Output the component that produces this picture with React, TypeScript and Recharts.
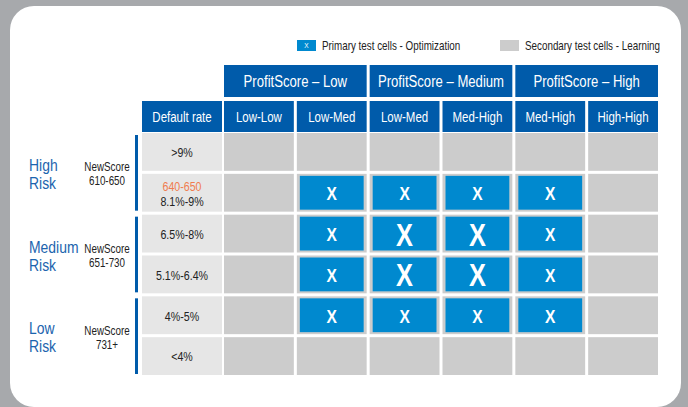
import React from "react";
import { ScatterChart, Scatter, XAxis, YAxis, Legend } from "recharts";

const profitGroups = ["ProfitScore – Low", "ProfitScore – Medium", "ProfitScore – High"];
const scoreBins = ["Low-Low", "Low-Med", "Low-Med", "Med-High", "Med-High", "High-High"];
const defaultRates = [">9%", "8.1%-9%", "6.5%-8%", "5.1%-6.4%", "4%-5%", "<4%"];
const rateNotes = ["", "640-650", "", "", "", ""];
const riskNames = [["High", "Risk"], ["Medium", "Risk"], ["Low", "Risk"]];
const riskScores = [["NewScore", "610-650"], ["NewScore", "651-730"], ["NewScore", "731+"]];
// 0 = secondary test cell, 1 = primary test cell, 2 = primary (emphasised)
const testGrid = [
  [0, 0, 0, 0, 0, 0],
  [0, 1, 1, 1, 1, 0],
  [0, 1, 2, 2, 1, 0],
  [0, 1, 2, 2, 1, 0],
  [0, 1, 1, 1, 1, 0],
  [0, 0, 0, 0, 0, 0],
];

const cells = testGrid.flatMap((row, r) => row.map((level, c) => ({ row: r, col: c, level })));
const primaryCells = cells.filter((d) => d.level > 0);

const W = 688;
const H = 407;
const PLOT_L = 224;
const PLOT_R = 661;
const PLOT_T = 133;
const PLOT_B = 378;
const COL_W = (PLOT_R - PLOT_L) / scoreBins.length;
const ROW_H = (PLOT_B - PLOT_T) / defaultRates.length;
const GAP = 3;
const RATE_W = 80;

// no narrow face installed, so squeeze Liberation Sans to look like a condensed grotesk
const FONT = "'Liberation Sans', Arial, sans-serif";
const SQUEEZE = 0.82;
const HEAD_BLUE = "#005baa";
const CELL_BLUE = "#0089cf";
const CELL_GRAY = "#cccccc";
const RATE_GRAY = "#e6e6e6";
const LABEL_BLUE = "#1c64ae";

const Narrow = ({ x, y, size, fill = "#222", anchor = "middle", weight = "normal", children }: any) => (
  <text
    transform={`translate(${x},${y}) scale(${SQUEEZE},1)`}
    textAnchor={anchor}
    dominantBaseline="central"
    fill={fill}
    fontFamily={FONT}
    fontSize={size}
    fontWeight={weight}
  >
    {children}
  </text>
);

const GrayCell = (props: any) => {
  const { cx, cy } = props;
  return (
    <rect x={cx - COL_W / 2} y={cy - ROW_H / 2} width={COL_W - GAP} height={ROW_H - GAP} fill={CELL_GRAY} />
  );
};

const BlueCell = (props: any) => {
  const { cx, cy, payload } = props;
  const x = cx - COL_W / 2;
  const y = cy - ROW_H / 2;
  const big = payload.level === 2;
  return (
    <g>
      <rect x={x + 3} y={y + 2} width={COL_W - GAP - 6} height={ROW_H - GAP - 4} fill={CELL_BLUE} />
      <Narrow x={cx - GAP / 2} y={cy - GAP / 2 + 1} size={big ? 31 : 19} fill="#fff" weight="bold">
        X
      </Narrow>
    </g>
  );
};

const HeaderTick = (props: any) => {
  const { x, payload } = props;
  const c = payload.value as number;
  const left = x - COL_W / 2;
  return (
    <g>
      {c === 0 && (
        <g>
          <rect x={PLOT_L - RATE_W - 2} y={101} width={RATE_W} height={31} fill={HEAD_BLUE} />
          <Narrow x={PLOT_L - RATE_W / 2 - 2} y={117} size={14} fill="#fff">
            Default rate
          </Narrow>
        </g>
      )}
      {c % 2 === 0 && (
        <g>
          <rect x={left} y={65} width={2 * COL_W - GAP} height={32} fill={HEAD_BLUE} />
          <Narrow x={left + COL_W - GAP / 2} y={81.5} size={16} fill="#fff">
            {profitGroups[c / 2]}
          </Narrow>
        </g>
      )}
      <rect x={left} y={101} width={COL_W - GAP} height={31} fill={HEAD_BLUE} />
      <Narrow x={left + (COL_W - GAP) / 2} y={117} size={14} fill="#fff">
        {scoreBins[c]}
      </Narrow>
    </g>
  );
};

const RateTick = (props: any) => {
  const { y, payload } = props;
  const r = payload.value as number;
  const top = y - ROW_H / 2;
  const mid = top + (ROW_H - GAP) / 2;
  const cx = PLOT_L - RATE_W / 2 - 2;
  const note = rateNotes[r];
  const band = r / 2;
  return (
    <g>
      <rect x={PLOT_L - RATE_W - 2} y={top} width={RATE_W} height={ROW_H - GAP} fill={RATE_GRAY} />
      {note && (
        <Narrow x={cx} y={mid - 6} size={13} fill="#f07c4f">
          {note}
        </Narrow>
      )}
      <Narrow x={cx} y={note ? mid + 9 : mid + 1} size={13}>
        {defaultRates[r]}
      </Narrow>
      {r % 2 === 0 && (
        <g>
          <rect x={135} y={top + 2} width={3} height={2 * ROW_H - GAP - 3} fill={HEAD_BLUE} />
          <Narrow x={29} y={top + ROW_H - 9} size={17} fill={LABEL_BLUE} anchor="start">
            {riskNames[band][0]}
          </Narrow>
          <Narrow x={29} y={top + ROW_H + 9} size={17} fill={LABEL_BLUE} anchor="start">
            {riskNames[band][1]}
          </Narrow>
          <Narrow x={107} y={top + ROW_H - 7} size={12}>
            {riskScores[band][0]}
          </Narrow>
          <Narrow x={107} y={top + ROW_H + 7} size={12}>
            {riskScores[band][1]}
          </Narrow>
        </g>
      )}
    </g>
  );
};

const renderLegend = (props: any) => {
  const items = [...(props.payload || [])].sort((a: any, b: any) => String(a.value).localeCompare(String(b.value)));
  return (
    <svg width={380} height={16}>
      {items.map((item: any, i: number) => {
        const x0 = i * 203;
        const primary = String(item.value).startsWith("Primary");
        return (
          <g key={i}>
            <rect x={x0} y={2} width={19} height={11} fill={item.color} />
            {primary && (
              <Narrow x={x0 + 9.5} y={7.5} size={8} fill="#fff">
                X
              </Narrow>
            )}
            <Narrow x={x0 + 25} y={7.5} size={12} anchor="start">
              {item.value}
            </Narrow>
          </g>
        );
      })}
    </svg>
  );
};

export default function App() {
  return (
    <div style={{ position: "absolute", left: 0, top: 0, width: W, height: H, background: "#a7a9ac", overflow: "hidden" }}>
      <div style={{ position: "absolute", left: 10, top: 6, width: 671, height: 401, background: "#fff", borderRadius: 24 }} />
      <div style={{ position: "absolute", left: 0, top: 0 }}>
        <ScatterChart width={W} height={H} margin={{ top: PLOT_T - 68, right: W - PLOT_R, bottom: H - PLOT_B, left: PLOT_L - 82 }}>
          <XAxis
            type="number"
            dataKey="col"
            orientation="top"
            height={68}
            domain={[-0.5, 5.5]}
            allowDataOverflow
            ticks={[0, 1, 2, 3, 4, 5]}
            interval={0}
            axisLine={false}
            tickLine={false}
            tick={<HeaderTick />}
          />
          <YAxis
            type="number"
            dataKey="row"
            width={82}
            reversed
            domain={[-0.5, 5.5]}
            allowDataOverflow
            ticks={[0, 1, 2, 3, 4, 5]}
            interval={0}
            axisLine={false}
            tickLine={false}
            tick={<RateTick />}
          />
          <Legend
            layout="horizontal"
            verticalAlign="middle"
            align="center"
            content={renderLegend}
            wrapperStyle={{ top: 38, left: 297, width: 380 }}
          />
          <Scatter name="Secondary test cells - Learning" data={cells} fill={CELL_GRAY} shape={<GrayCell />} isAnimationActive={false} />
          <Scatter name="Primary test cells - Optimization" data={primaryCells} fill={CELL_BLUE} shape={<BlueCell />} isAnimationActive={false} />
        </ScatterChart>
      </div>
    </div>
  );
}
